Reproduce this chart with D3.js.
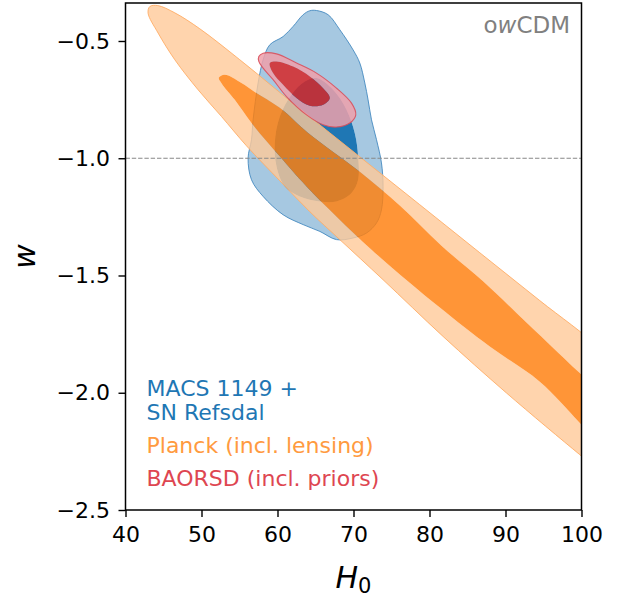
<!DOCTYPE html>
<html>
<head>
<meta charset="utf-8">
<script src="https://cdn.jsdelivr.net/npm/d3@7"></script>
<style>
    body { margin: 0; background: #fff; }
    text { font-family: "DejaVu Sans", sans-serif; }
</style>
</head>
<body>
<svg></svg>
<script>
"use strict";

// axis ticks
var xTicks = [40, 50, 60, 70, 80, 90, 100];
var yTicks = [-0.5, -1.0, -1.5, -2.0, -2.5];

// contours, [H0, w]
var macsOuter = [
    [65.13, -0.370], [66.66, -0.388], [68.20, -0.452], [69.95, -0.538], [70.83, -0.594],
    [71.49, -0.679], [71.92, -0.751], [72.37, -0.836], [73.03, -0.921], [73.68, -1.020],
    [73.89, -1.120], [73.68, -1.220], [73.03, -1.276], [71.71, -1.319], [69.95, -1.340],
    [67.76, -1.347], [65.57, -1.312], [63.37, -1.283], [60.74, -1.241], [58.11, -1.163],
    [56.58, -1.092], [56.13, -0.999], [56.58, -0.921], [56.79, -0.836], [57.45, -0.679],
    [58.11, -0.580], [58.99, -0.516], [60.74, -0.481], [62.05, -0.438], [63.37, -0.388],
    [64.25, -0.371]
];
var macsInner = [
    [65.13, -0.658], [67.32, -0.708], [69.08, -0.793], [70.17, -0.893], [70.61, -0.992],
    [70.61, -1.092], [69.74, -1.148], [67.76, -1.184], [65.57, -1.184], [62.93, -1.163],
    [60.96, -1.120], [59.87, -1.035], [59.64, -0.935], [60.30, -0.822], [61.84, -0.729],
    [63.59, -0.673]
];
var planckOuter = [
    [43.20, -0.353], [44.25, -0.349], [46.49, -0.380], [49.78, -0.448], [55.04, -0.580],
    [62.93, -0.789], [70.83, -0.994], [78.72, -1.198], [86.62, -1.403], [94.51, -1.607],
    [102.41, -1.812], [105.70, -1.944], [105.70, -2.200], [102.41, -2.332], [99.78, -2.264],
    [90.13, -2.001], [81.79, -1.760], [73.89, -1.518], [68.20, -1.347], [64.25, -1.228],
    [60.30, -1.096], [55.92, -0.947], [52.63, -0.822], [49.55, -0.708], [46.49, -0.580],
    [44.29, -0.466], [42.97, -0.381]
];
var planckInner = [
    [52.28, -0.657], [53.07, -0.644], [55.26, -0.679], [57.01, -0.717], [60.30, -0.785],
    [63.99, -0.891], [70.83, -1.058], [76.09, -1.202], [81.58, -1.373], [87.05, -1.525],
    [91.45, -1.660], [95.83, -1.795], [99.78, -1.916], [103.72, -2.030], [105.70, -2.116],
    [103.72, -2.270], [99.78, -2.129], [94.51, -1.953], [87.93, -1.803], [81.36, -1.637],
    [72.37, -1.390], [63.82, -1.120], [60.30, -0.992], [56.58, -0.850], [54.38, -0.751],
    [52.67, -0.682]
];
var baoOuter = [
    [57.54, -0.566], [58.11, -0.552], [59.87, -0.555], [62.50, -0.594], [65.13, -0.637],
    [67.76, -0.701], [69.74, -0.765], [70.30, -0.815], [69.51, -0.850], [67.76, -0.867],
    [66.00, -0.857], [63.82, -0.815], [61.18, -0.737], [59.42, -0.665], [58.11, -0.616],
    [57.54, -0.587]
];
var baoInner = [
    [58.99, -0.594], [59.87, -0.587], [62.05, -0.609], [64.25, -0.651], [66.00, -0.701],
    [66.88, -0.743], [66.00, -0.772], [64.25, -0.776], [62.50, -0.743], [60.74, -0.687],
    [59.42, -0.637]
];

var legendLines = ['MACS 1149 +', 'SN Refsdal', 'Planck (incl. lensing)', 'BAORSD (incl. priors)'];
var legendColors = ['#1f77b4', '#1f77b4', '#ff9a40', '#de4651'];

var settings = {
    width: 626,
    height: 599,
    plot: { left: 125.5, right: 581.5, top: 3, bottom: 510 },
    font: 22
};

var svg = d3.select('svg')
    .attr('width', settings.width)
    .attr('height', settings.height);

var x = d3.scaleLinear().domain([40, 100])
    .range([settings.plot.left, settings.plot.right]);
var y = d3.scaleLinear().domain([-2.5, -0.338])
    .range([settings.plot.bottom, settings.plot.top]);

svg.append('defs').append('clipPath').attr('id', 'clip')
    .append('rect')
    .attr('x', settings.plot.left)
    .attr('y', settings.plot.top)
    .attr('width', settings.plot.right - settings.plot.left)
    .attr('height', settings.plot.bottom - settings.plot.top);

var line = d3.line()
    .x(d => x(d[0]))
    .y(d => y(d[1]))
    .curve(d3.curveCatmullRomClosed.alpha(0.5));

// outer band is a ring around the inner region (like contourf)
function ring(outer, inner) {
    return line(outer) + line(inner);
}

var layers = [
    { d: ring(macsOuter, macsInner), fill: '#a6c8e1', opacity: 1,
      edge: { data: macsOuter, color: '#3d85bd', width: 1, opacity: 0.85 } },
    { d: line(macsInner), fill: '#1f77b4', opacity: 1 },
    { d: ring(planckOuter, planckInner), fill: '#ffc999', opacity: 0.8,
      edge: { data: planckOuter, color: '#ffad66', width: 1, opacity: 0.9 } },
    { d: line(planckInner), fill: '#ff7f0e', opacity: 0.83 },
    { d: ring(baoOuter, baoInner), fill: '#eea0aa', opacity: 0.85,
      edge: { data: baoOuter, color: '#d9505c', width: 1.1, opacity: 0.9 } },
    { d: line(baoInner), fill: '#d62728', opacity: 0.85 }
];

var contours = svg.append('g').attr('clip-path', 'url(#clip)');

layers.forEach(l => {
    contours.append('path')
        .attr('d', l.d)
        .attr('fill-rule', 'evenodd')
        .attr('fill', l.fill)
        .attr('fill-opacity', l.opacity);
    if (l.edge) {
        contours.append('path')
            .attr('d', line(l.edge.data))
            .attr('fill', 'none')
            .attr('stroke', l.edge.color)
            .attr('stroke-opacity', l.edge.opacity)
            .attr('stroke-width', l.edge.width);
    }
});

// w = -1 reference
svg.append('line')
    .attr('x1', settings.plot.left)
    .attr('x2', settings.plot.right)
    .attr('y1', y(-1))
    .attr('y2', y(-1))
    .attr('stroke', '#888888')
    .attr('stroke-width', 1.2)
    .attr('stroke-dasharray', '4.4,1.9');

// axes
var xAxis = svg.append('g')
    .attr('transform', `translate(0,${settings.plot.bottom})`)
    .call(d3.axisBottom(x).tickValues(xTicks).tickFormat(d3.format('d'))
        .tickSize(7).tickPadding(9));
var yAxis = svg.append('g')
    .attr('transform', `translate(${settings.plot.left},0)`)
    .call(d3.axisLeft(y).tickValues(yTicks).tickFormat(d3.format('.1f'))
        .tickSize(7).tickPadding(8.5));

[xAxis, yAxis].forEach(a => {
    a.select('.domain').remove();
    a.selectAll('line').attr('stroke', '#000').attr('stroke-width', 1.4);
    a.selectAll('text')
        .attr('fill', '#000')
        .style('font-size', settings.font + 'px')
        .style('font-family', '"DejaVu Sans", sans-serif');
});

svg.append('rect')
    .attr('x', settings.plot.left)
    .attr('y', settings.plot.top)
    .attr('width', settings.plot.right - settings.plot.left)
    .attr('height', settings.plot.bottom - settings.plot.top)
    .attr('fill', 'none')
    .attr('stroke', '#000')
    .attr('stroke-width', 1.5);

// axis labels
var xLabel = svg.append('text')
    .attr('x', (settings.plot.left + settings.plot.right) / 2)
    .attr('y', 588)
    .attr('text-anchor', 'middle')
    .style('font-size', '30px');
xLabel.append('tspan').style('font-style', 'italic').text('H');
xLabel.append('tspan').attr('dy', 5).style('font-size', '21px').text('0');

svg.append('text')
    .attr('transform', `translate(35,${(settings.plot.top + settings.plot.bottom) / 2}) rotate(-90)`)
    .attr('text-anchor', 'middle')
    .style('font-size', '30px')
    .style('font-style', 'italic')
    .text('w');

// model tag
var tag = svg.append('text')
    .attr('x', 570)
    .attr('y', 32.5)
    .attr('text-anchor', 'end')
    .attr('fill', '#808080')
    .style('font-size', '23px');
tag.append('tspan').text('o');
tag.append('tspan').style('font-style', 'italic').text('w');
tag.append('tspan').text('CDM');

// legend
var legendY = [395.5, 420, 452.5, 486];
svg.append('g')
    .selectAll('text')
    .data(legendLines)
    .enter()
    .append('text')
    .attr('x', 146.5)
    .attr('y', (d, i) => legendY[i])
    .attr('fill', (d, i) => legendColors[i])
    .style('font-size', settings.font + 'px')
    .text(d => d);
</script>
</body>
</html>
